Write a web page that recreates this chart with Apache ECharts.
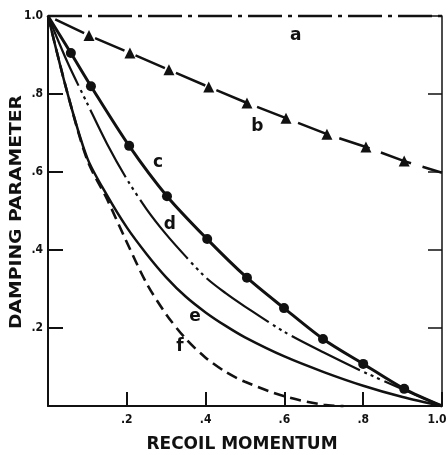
<!DOCTYPE html>
<html>
<head>
<meta charset="utf-8">
<script src="https://cdn.jsdelivr.net/npm/echarts@6/dist/echarts.min.js"></script>
<style>
  html, body { margin: 0; padding: 0; background: #fff; }
  #chart { width: 448px; height: 455px; }
</style>
</head>
<body>
<div id="chart"></div>
<script>
// values
var tickLabels = ['', '.2', '.4', '.6', '.8', '1.0'];

var momentumA = [0, 1.0];
var curveA = [1.0, 1.0];

var momentumB = [0, 0.104, 0.208, 0.307, 0.408, 0.505, 0.604, 0.708, 0.807, 0.904, 1.0];
var curveB = [1.0, 0.95, 0.905, 0.862, 0.818, 0.777, 0.738, 0.697, 0.664, 0.628, 0.598];

var momentumC = [0, 0.058, 0.109, 0.206, 0.302, 0.404, 0.505, 0.599, 0.698, 0.8, 0.904, 1.0];
var curveC = [1.0, 0.905, 0.82, 0.667, 0.538, 0.428, 0.329, 0.251, 0.172, 0.108, 0.044, 0];

var momentum = [0, 0.05, 0.1, 0.15, 0.2, 0.25, 0.3, 0.35, 0.4, 0.45, 0.5, 0.6, 0.7, 0.8, 0.9, 1.0];
var curveD = [1.0, 0.88, 0.775, 0.672, 0.582, 0.505, 0.44, 0.383, 0.33, 0.29, 0.255, 0.19, 0.137, 0.088, 0.043, 0];
var curveE = [1.0, 0.8, 0.635, 0.54, 0.458, 0.39, 0.33, 0.28, 0.24, 0.206, 0.176, 0.127, 0.087, 0.052, 0.023, 0];

var momentumF = [0, 0.05, 0.1, 0.15, 0.2, 0.25, 0.3, 0.35, 0.4, 0.45, 0.5, 0.6, 0.7, 0.75];
var curveF = [1.0, 0.8, 0.63, 0.53, 0.42, 0.315, 0.235, 0.172, 0.124, 0.088, 0.062, 0.025, 0.003, 0];

// letters next to the curves
var curveNames = ['a', 'b', 'c', 'd', 'e', 'f'];
var nameX = [0.629, 0.531, 0.279, 0.309, 0.373, 0.335];
var nameY = [0.951, 0.716, 0.624, 0.466, 0.229, 0.153];

function pairs(xs, ys, markEnds) {
    return xs.map(function (x, i) {
        var item = { value: [x, ys[i]] };
        if (markEnds === false && (i === 0 || i === xs.length - 1)) {
            item.symbol = 'none';
        }
        return item;
    });
}

var ink = '#111';

var dom = document.getElementById('chart');
var myChart = echarts.init(dom, null, { renderer: 'canvas' });
var option = {
    animation: false,
    grid: {
        left: 48,
        right: 6,
        top: 16,
        bottom: 49,
        containLabel: false,
        outerBoundsMode: 'none'
    },
    xAxis: {
        type: 'value',
        min: 0,
        max: 1,
        interval: 0.2,
        splitLine: { show: false },
        axisLine: { lineStyle: { color: ink, width: 2 } },
        axisTick: { inside: true, length: 14, lineStyle: { color: ink, width: 2 } },
        axisLabel: {
            margin: 8,
            color: ink,
            fontWeight: 'bold',
            fontSize: 12,
            fontFamily: '"DejaVu Sans Condensed", "DejaVu Sans", sans-serif',
            formatter: function (v) {
                var i = Math.round(v / 0.2);
                // last label sits against the right edge
                return i === tickLabels.length - 1 ? '{last|' + tickLabels[i] + '}' : tickLabels[i];
            },
            rich: {
                last: {
                    padding: [0, 10, 0, 0],
                    color: ink,
                    fontWeight: 'bold',
                    fontSize: 12,
                    fontFamily: '"DejaVu Sans Condensed", "DejaVu Sans", sans-serif'
                }
            }
        }
    },
    yAxis: [
        {
            type: 'value',
            min: 0,
            max: 1,
            interval: 0.2,
            splitLine: { show: false },
            axisLine: { show: true, lineStyle: { color: ink, width: 2 } },
            axisTick: { show: true, inside: true, length: 15, lineStyle: { color: ink, width: 2 } },
            axisLabel: {
                margin: 5,
                color: ink,
                fontWeight: 'bold',
                fontSize: 12,
                fontFamily: '"DejaVu Sans Condensed", "DejaVu Sans", sans-serif',
                formatter: function (v) { return tickLabels[Math.round(v / 0.2)]; }
            }
        },
        {
            // right frame with inward ticks
            type: 'value',
            position: 'right',
            min: 0,
            max: 1,
            interval: 0.2,
            splitLine: { show: false },
            axisLine: { show: true, lineStyle: { color: ink, width: 1.5 } },
            axisTick: { show: true, inside: true, length: 14, lineStyle: { color: ink, width: 1.5 } },
            axisLabel: { show: false }
        }
    ],
    graphic: [
        {
            type: 'text',
            x: 242,
            y: 445,
            style: {
                text: 'RECOIL MOMENTUM',
                font: 'bold 17px "DejaVu Sans", sans-serif',
                fill: ink,
                textAlign: 'center',
                textVerticalAlign: 'middle',
                align: 'center',
                verticalAlign: 'middle'
            }
        },
        {
            type: 'text',
            x: 17,
            y: 212,
            rotation: Math.PI / 2,
            scaleX: 1.25,
            style: {
                text: 'DAMPING PARAMETER',
                font: 'bold 15px "DejaVu Sans", sans-serif',
                fill: ink,
                textAlign: 'center',
                textVerticalAlign: 'middle',
                align: 'center',
                verticalAlign: 'middle'
            }
        }
    ],
    series: [
        {
            name: 'a',
            type: 'line',
            clip: false,
            showSymbol: false,
            data: pairs(momentumA, curveA),
            lineStyle: { color: ink, width: 2.5, type: [34, 6, 4, 6] }
        },
        {
            name: 'b',
            type: 'line',
            clip: false,
            symbol: 'triangle',
            symbolSize: 11,
            itemStyle: { color: ink },
            data: pairs(momentumB, curveB, false),
            lineStyle: { color: ink, width: 2.5, type: [32, 12], dashOffset: 36 }
        },
        {
            name: 'c',
            type: 'line',
            clip: false,
            smooth: 0.3,
            symbol: 'circle',
            symbolSize: 10,
            itemStyle: { color: ink },
            data: pairs(momentumC, curveC, false),
            lineStyle: { color: ink, width: 3 }
        },
        {
            name: 'd',
            type: 'line',
            clip: false,
            smooth: 0.3,
            showSymbol: false,
            data: pairs(momentum, curveD),
            lineStyle: { color: ink, width: 2.2, type: [76, 5, 3, 4, 3, 4, 3, 5] }
        },
        {
            name: 'e',
            type: 'line',
            clip: false,
            smooth: 0.3,
            showSymbol: false,
            data: pairs(momentum, curveE),
            lineStyle: { color: ink, width: 2.5 }
        },
        {
            name: 'f',
            type: 'line',
            clip: false,
            smooth: 0.3,
            showSymbol: false,
            data: pairs(momentumF, curveF),
            lineStyle: { color: ink, width: 2.6, type: [11, 6] }
        },
        {
            name: 'labels',
            type: 'scatter',
            clip: false,
            symbolSize: 1,
            itemStyle: { color: 'rgba(0,0,0,0)', opacity: 1 },
            label: {
                show: true,
                position: 'inside',
                formatter: '{b}',
                color: ink,
                opacity: 1,
                textBorderWidth: 0,
                fontWeight: 'bold',
                fontSize: 17,
                fontFamily: '"DejaVu Sans", sans-serif'
            },
            data: curveNames.map(function (n, i) {
                return { name: n, value: [nameX[i], nameY[i]] };
            })
        }
    ]
};
if (option && typeof option === 'object') {
    myChart.setOption(option, true);
}
</script>
</body>
</html>
